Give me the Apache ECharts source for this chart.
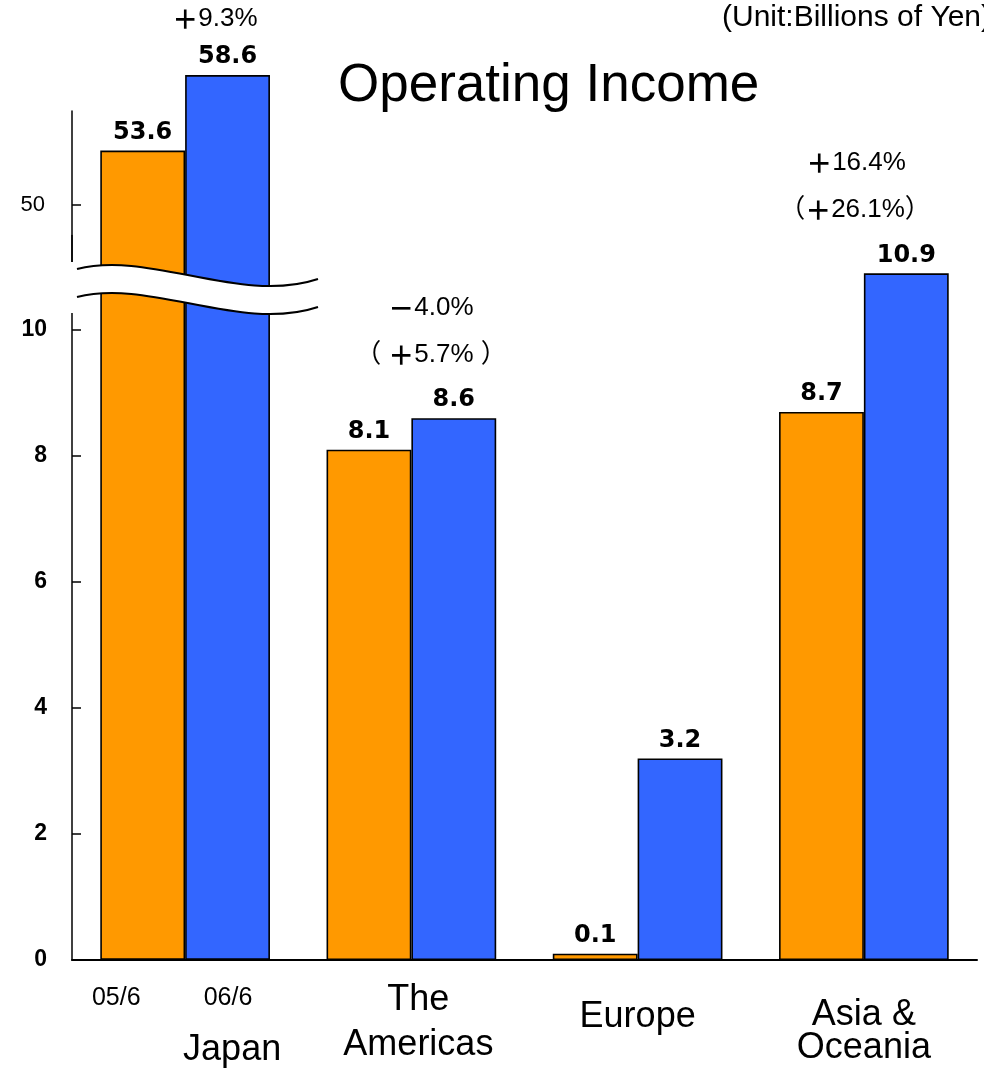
<!DOCTYPE html>
<html>
<head>
<meta charset="utf-8">
<script src="https://cdn.jsdelivr.net/npm/echarts@6/dist/echarts.min.js"></script>
<style>
  html, body { margin: 0; padding: 0; background: #fff; }
  #chart { width: 984px; height: 1070px; }
</style>
</head>
<body>
<div id="chart"></div>
<script>
// categories and values (billions of yen)
var regions = ['Japan', 'The\nAmericas', 'Europe', 'Asia &\nOceania'];
var periods = ['05/6', '06/6'];
var income0506 = [53.6, 8.1, 0.1, 8.7];
var income0606 = [58.6, 8.6, 3.2, 10.9];
var lowerTicks = [0, 2, 4, 6, 8, 10];
var upperTicks = [50];
var changeMain = ['＋9.3%', '－4.0%', '＋16.4%'];
var changeLocal = ['（ ＋5.7% ）', '（＋26.1%）'];

// the axis is broken: lower part 0..lowerMax, upper (compressed) part upperMin..upperMax
var lowerMax = 11.5, upperMin = 44.3, upperMax = 56.22;

var ORANGE = '#FF9900', BLUE = '#3366FF';
var FONT = '"Liberation Sans", "Noto Sans CJK JP", sans-serif';

var chart = echarts.init(document.getElementById('chart'));

var barLabel = {
  show: true, position: 'top', distance: 6, color: '#000',
  fontFamily: 'DejaVu Sans', fontWeight: 'bold', fontSize: 24
};

// big values are drawn on the upper (compressed) axis, the rest on the lower one
function lowerData(arr) {
  return arr.map(function (v) { return v >= upperMin ? '-' : v; });
}
function upperData(arr) {
  return arr.map(function (v) { return v >= upperMin ? v : '-'; });
}

function xLabel(value, idx) {
  var lines = value.split('\n');
  if (idx === 0) {
    return '{sub|' + periods[0] + '}{g1| }{sub|' + periods[1] + '}{g2| }\n{g3| }{jp|' + value + '}';
  }
  if (idx === 1) {
    return '{g4| }{am1|' + lines[0] + '}\n{g4| }{am2|' + lines[1] + '}';
  }
  if (idx === 2) {
    return '{eu|' + value + '}';
  }
  return '{sp| }\n{as|' + lines[0] + '}\n{as|' + lines[1] + '}';
}

var bigText = { fontFamily: 'Liberation Sans', fontSize: 36, color: '#000' };
var border = { borderColor: '#000', borderWidth: 1.6 };

function barSeries(name, axisIdx, data, color) {
  return {
    type: 'bar', name: name, xAxisIndex: axisIdx, yAxisIndex: axisIdx,
    barGap: '0%', barCategoryGap: '25%',
    clip: axisIdx === 0,
    data: data,
    itemStyle: Object.assign({ color: color }, border),
    label: barLabel
  };
}

var option = {
  animation: false,
  backgroundColor: '#fff',
  title: [{
    text: 'Operating Income', left: 338, top: 60, padding: 0,
    textStyle: { fontFamily: 'Liberation Sans', fontWeight: 'normal', fontSize: 53, color: '#000' }
  }, {
    text: '(Unit:Billions of Yen)', left: 722, top: 3, padding: 0,
    textStyle: { fontFamily: 'Liberation Sans', fontWeight: 'normal', fontSize: 30, color: '#000' }
  }],
  grid: [
    { left: 72, right: 7, top: 960 - lowerMax * 63, bottom: 110 },
    { left: 72, right: 7, top: 111, bottom: 779 }
  ],
  xAxis: [{
    type: 'category', gridIndex: 0, data: regions,
    axisLine: { lineStyle: { color: '#000', width: 2 } },
    axisTick: { inside: true, length: 12, lineStyle: { color: '#000', width: 1.5 } },
    axisLabel: {
      interval: 0, margin: 12, color: '#000',
      formatter: xLabel,
      rich: {
        sub: { fontFamily: 'Liberation Sans', fontSize: 25, lineHeight: 52, color: '#000' },
        g1: { width: 63 },
        g2: { width: 26 },
        g3: { width: 94 },
        g4: { width: 14 },
        jp: Object.assign({ lineHeight: 52 }, bigText),
        am1: Object.assign({ lineHeight: 56 }, bigText),
        am2: Object.assign({ lineHeight: 34 }, bigText),
        eu: Object.assign({ lineHeight: 90 }, bigText),
        sp: { fontSize: 10, lineHeight: 27 },
        as: Object.assign({ lineHeight: 33 }, bigText)
      }
    }
  }, {
    type: 'category', gridIndex: 1, data: regions, show: false
  }],
  yAxis: [{
    type: 'value', gridIndex: 0, min: 0, max: lowerMax,
    axisLine: { show: true, lineStyle: { color: '#000', width: 1.5 } },
    axisTick: { show: true, inside: true, length: 9, customValues: lowerTicks, lineStyle: { color: '#000', width: 1.5 } },
    axisLabel: {
      customValues: lowerTicks, margin: 25, color: '#000', padding: [4, 0, 0, 0],
      fontFamily: 'Liberation Sans', fontWeight: 'bold', fontSize: 23
    },
    splitLine: { show: false }
  }, {
    type: 'value', gridIndex: 1, min: upperMin, max: upperMax,
    axisLine: { show: true, lineStyle: { color: '#000', width: 1.5 } },
    axisTick: { show: true, inside: true, length: 9, customValues: upperTicks, lineStyle: { color: '#000', width: 1.5 } },
    axisLabel: {
      customValues: upperTicks, margin: 27, color: '#000',
      fontFamily: 'Liberation Sans', fontSize: 22
    },
    splitLine: { show: false }
  }],
  series: [
    barSeries(periods[0], 0, lowerData(income0506), ORANGE),
    barSeries(periods[1], 0, lowerData(income0606), BLUE),
    barSeries(periods[0], 1, upperData(income0506), ORANGE),
    barSeries(periods[1], 1, upperData(income0606), BLUE)
  ]
};

chart.setOption(option);

// break mark (two wavy lines with white between) across the axis and the Japan bars
function bezierPoints(p0, p1, p2, p3, n) {
  var pts = [];
  for (var i = 0; i <= n; i++) {
    var t = i / n, u = 1 - t;
    pts.push([
      u * u * u * p0[0] + 3 * u * u * t * p1[0] + 3 * u * t * t * p2[0] + t * t * t * p3[0],
      u * u * u * p0[1] + 3 * u * u * t * p1[1] + 3 * u * t * t * p2[1] + t * t * t * p3[1]
    ]);
  }
  return pts;
}
var waveTop = [[77, 269], [150, 250], [240, 305], [318, 279]];
var waveGap = 28;
var waveBottom = waveTop.map(function (p) { return [p[0], p[1] + waveGap]; });
var bandPts = bezierPoints(waveTop[0], waveTop[1], waveTop[2], waveTop[3], 30)
  .concat(bezierPoints(waveBottom[3], waveBottom[2], waveBottom[1], waveBottom[0], 30));

function curve(w) {
  return { type: 'bezierCurve', z: 101,
    shape: { x1: w[0][0], y1: w[0][1], cpx1: w[1][0], cpy1: w[1][1], cpx2: w[2][0], cpy2: w[2][1], x2: w[3][0], y2: w[3][1] },
    style: { stroke: '#000', lineWidth: 2, fill: null } };
}

var graphics = [
  { type: 'polygon', z: 100, shape: { points: bandPts }, style: { fill: '#fff' } },
  { type: 'rect', z: 100, shape: { x: 64, y: 262, width: 13, height: 51 }, style: { fill: '#fff' } },
  curve(waveTop),
  curve(waveBottom)
];

// change annotations (full-width signs drawn heavier)
function note(t, pos) {
  return { type: 'text', z: 102, style: {
    text: t.replace(/([＋－])/g, '{p|$1}'), x: pos[0], y: pos[1],
    align: 'center', verticalAlign: 'middle', font: '26px ' + FONT, fill: '#000',
    rich: { p: { fontFamily: 'Noto Sans CJK JP', fontWeight: 'bold', fontSize: 26 } }
  } };
}
var mainPos = [[215, 19], [431, 308], [856, 163]];
var localPos = [[431, 355], [855, 210]];
changeMain.forEach(function (t, i) { graphics.push(note(t, mainPos[i])); });
changeLocal.forEach(function (t, i) { graphics.push(note(t, localPos[i])); });

chart.setOption({ graphic: graphics });
</script>
</body>
</html>
